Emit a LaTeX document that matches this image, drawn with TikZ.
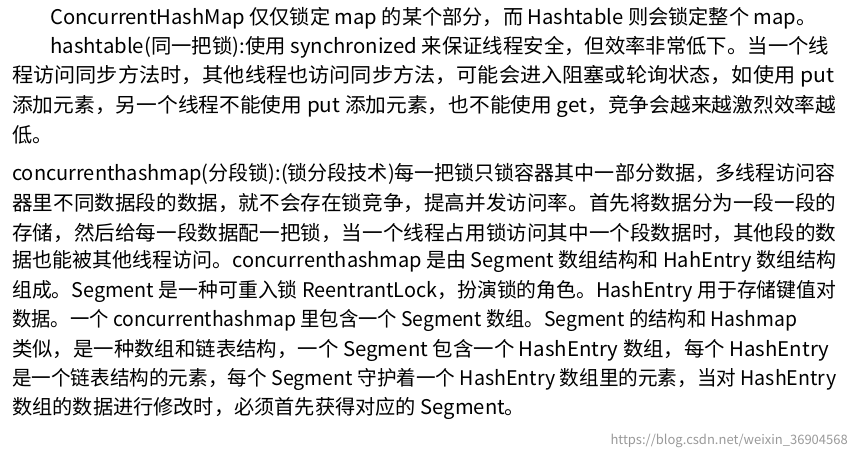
\documentclass[tikz,border=0pt]{standalone}
\usepackage{fontspec}
\usepackage{graphicx}
\setmainfont{Noto Sans CJK SC}
\newfontfamily\cjk{Noto Sans CJK SC}
\usetikzlibrary{positioning}
\newcommand{\fitline}[2]{\resizebox{#1pt}{\height}{#2}}
\tikzset{txtline/.style={anchor=west,inner sep=0pt,font=\fontsize{20.2}{24}\selectfont\cjk},
  mark url/.style={anchor=east,inner sep=0pt,font=\fontsize{13}{15}\selectfont\cjk,text=black!40}}
\begin{document}
\begin{tikzpicture}[x=1pt,y=-1pt]
\useasboundingbox (0,0) rectangle (857,461);
% first paragraph
\node[txtline] (l1) at (50,18) {ConcurrentHashMap 仅仅锁定 map 的某个部分，而 Hashtable 则会锁定整个 map。};
\node[txtline] (l2) at (50,47) {\fitline{779}{hashtable(同一把锁):使用 synchronized 来保证线程安全，但效率非常低下。当一个线}};
\node[txtline] (l3) at (12,76) {\fitline{822}{程访问同步方法时，其他线程也访问同步方法，可能会进入阻塞或轮询状态，如使用 put}};
\node[txtline] (l4) at (12,106) {\fitline{824}{添加元素，另一个线程不能使用 put 添加元素，也不能使用 get，竞争会越来越激烈效率越}};
\node[txtline] (l5) at (12,135) {低。};
% second paragraph
\node[txtline] (m1) at (12,174) {\fitline{823}{concurrenthashmap(分段锁):(锁分段技术)每一把锁只锁容器其中一部分数据，多线程访问容}};
\node[txtline] (m2) at (12,203) {\fitline{824}{器里不同数据段的数据，就不会存在锁竞争，提高并发访问率。首先将数据分为一段一段的}};
\node[txtline] (m3) at (12,233) {\fitline{824}{存储，然后给每一段数据配一把锁，当一个线程占用锁访问其中一个段数据时，其他段的数}};
\node[txtline] (m4) at (12,262) {\fitline{824}{据也能被其他线程访问。concurrenthashmap 是由 Segment 数组结构和 HahEntry 数组结构}};
\node[txtline] (m5) at (12,291) {\fitline{824}{组成。Segment 是一种可重入锁 ReentrantLock，扮演锁的角色。HashEntry 用于存储键值对}};
\node[txtline] (m6) at (12,320) {\fitline{785}{数据。一个 concurrenthashmap 里包含一个 Segment 数组。Segment 的结构和 Hashmap}};
\node[txtline] (m7) at (12,350) {\fitline{817}{类似，是一种数组和链表结构，一个 Segment 包含一个 HashEntry 数组，每个 HashEntry}};
\node[txtline] (m8) at (12,379) {\fitline{824}{是一个链表结构的元素，每个 Segment 守护着一个 HashEntry 数组里的元素，当对 HashEntry}};
\node[txtline] (m9) at (12,408) {数组的数据进行修改时，必须首先获得对应的 Segment。};
% watermark
\node[mark url] (url) at (848,441) {https://blog.csdn.net/weixin\_36904568};
\end{tikzpicture}
\end{document}
